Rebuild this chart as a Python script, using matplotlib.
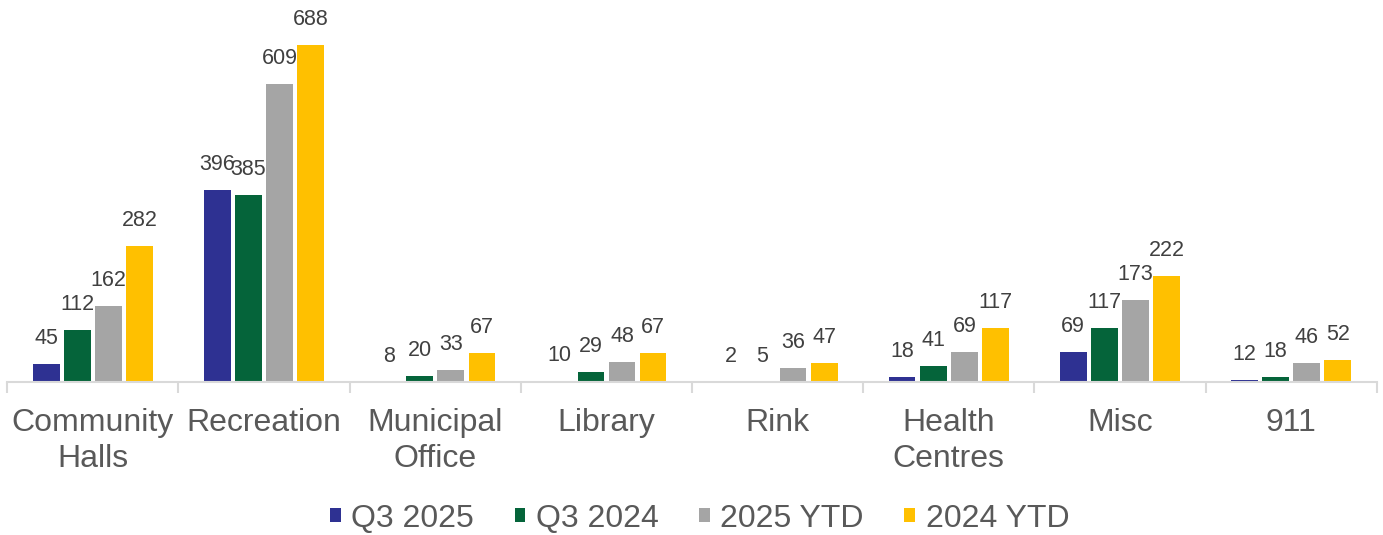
import numpy as np
import matplotlib.pyplot as plt
from matplotlib.patches import Patch

plt.rcParams['font.family'] = ['Liberation Sans', 'DejaVu Sans']

categories = ['Community\nHalls', 'Recreation', 'Municipal\nOffice', 'Library',
              'Rink', 'Health\nCentres', 'Misc', '911']
q3_2025 = [45, 396, 8, 10, 2, 18, 69, 12]
q3_2024 = [112, 385, 20, 29, 5, 41, 117, 18]
ytd_2025 = [162, 609, 33, 48, 36, 69, 173, 46]
ytd_2024 = [282, 688, 67, 67, 47, 117, 222, 52]

series = [('Q3 2025', q3_2025, '#2E3192'),
          ('Q3 2024', q3_2024, '#05643A'),
          ('2025 YTD', ytd_2025, '#A5A5A5'),
          ('2024 YTD', ytd_2024, '#FFC000')]

# axis in this chart does not start at zero
ymin, ymax = 8, 778.6

fig = plt.figure(figsize=(13.83, 5.35), dpi=100)
ax = fig.add_axes([7.3 / 1383, 0.286, 1369.4 / 1383, 0.714])

x = np.arange(len(categories))
step = 0.1817
width = 0.156
for i, (name, vals, col) in enumerate(series):
    pos = x + (i - 1.5) * step
    ax.bar(pos, vals, width, color=col, label=name, zorder=2)
    for px, v in zip(pos, vals):
        ax.annotate(str(v), xy=(px, max(v, ymin)), xytext=(0, 14.4),
                    textcoords='offset points', ha='center', va='baseline',
                    fontsize=15.5, color='#404040')

ax.set_xlim(-0.5, len(categories) - 0.5)
ax.set_ylim(ymin, ymax)

for s in ['top', 'left', 'right']:
    ax.spines[s].set_visible(False)
ax.spines['bottom'].set_color('#D9D9D9')
ax.spines['bottom'].set_linewidth(1.5)
ax.set_yticks([])

ax.set_xticks(x)
ax.set_xticklabels(categories, fontsize=23, color='#595959', linespacing=1.26)
ax.tick_params(axis='x', which='major', length=0, pad=19)
ax.set_xticks(np.arange(-0.5, len(categories)), minor=True)
ax.tick_params(axis='x', which='minor', length=8, width=1.5, color='#D9D9D9')

handles = [Patch(facecolor=c, edgecolor='none', label=n) for n, _, c in series]
fig.legend(handles=handles, loc='center', bbox_to_anchor=(0.506, 0.03), ncol=4,
           frameon=False, fontsize=23, labelcolor='#595959',
           handlelength=0.32, handleheight=0.3, handletextpad=0.34,
           columnspacing=1.27, borderpad=0)

fig.savefig('out.png', dpi=100)
